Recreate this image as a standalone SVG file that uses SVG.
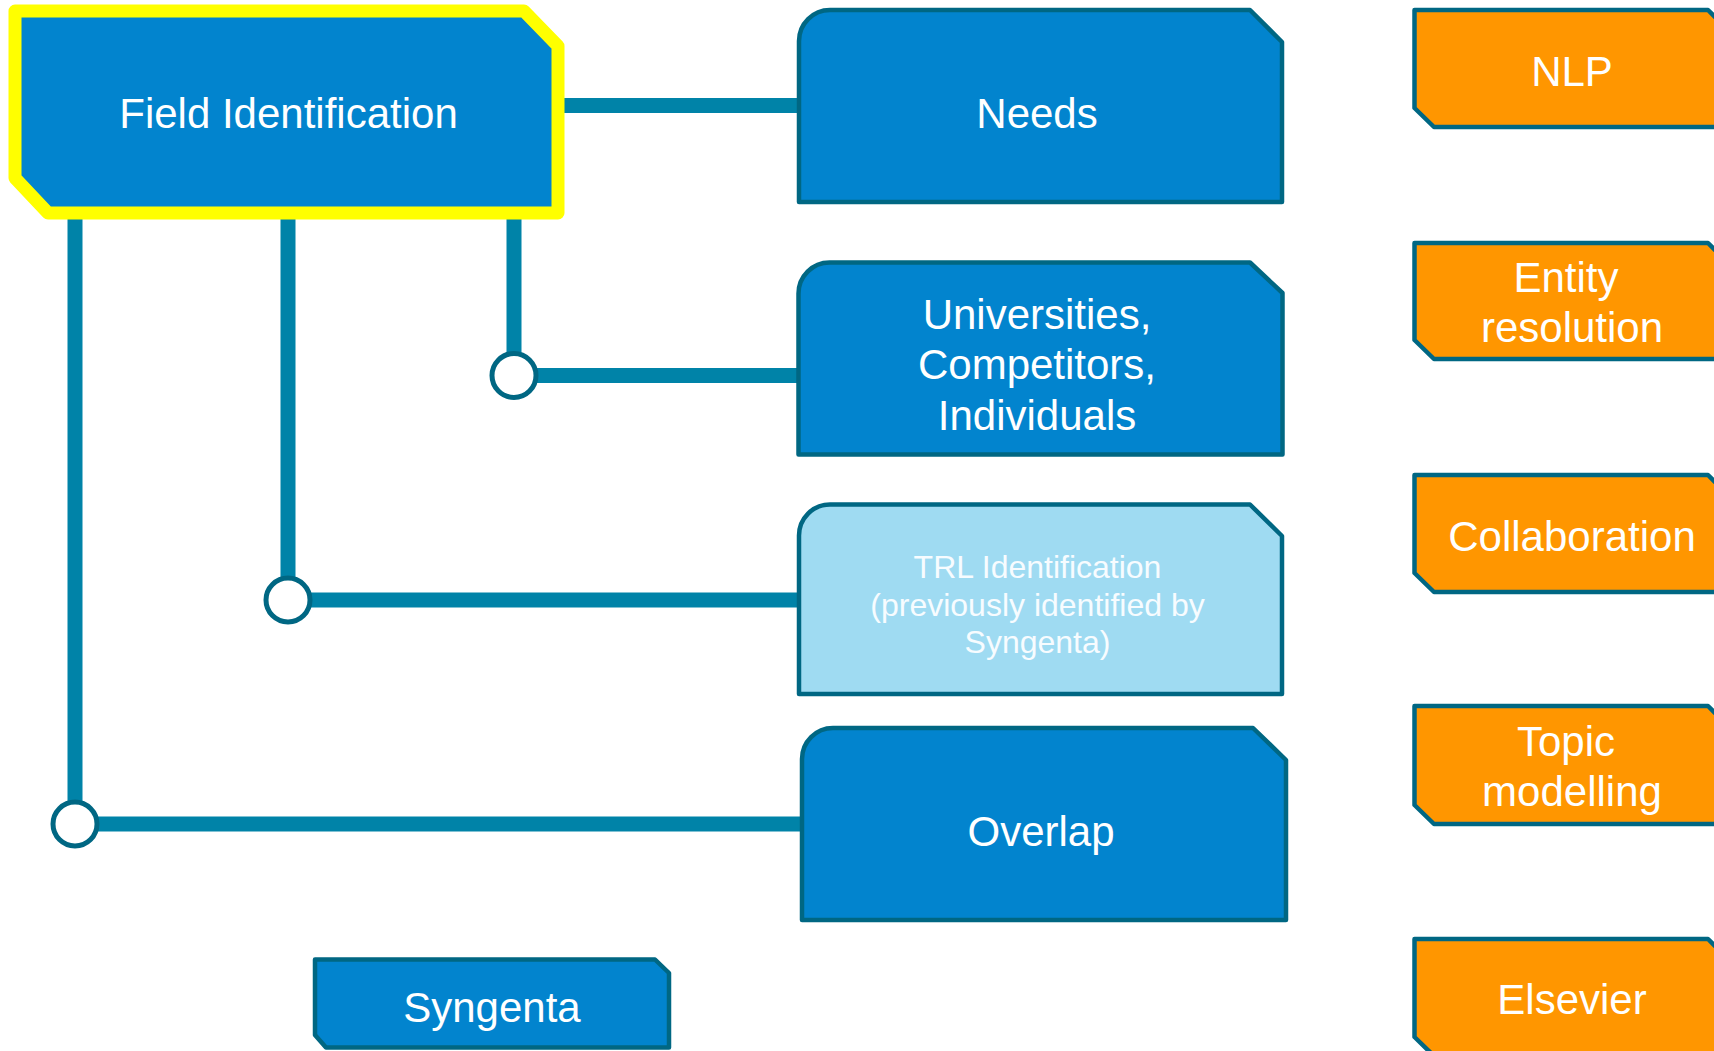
<svg xmlns="http://www.w3.org/2000/svg" width="1714" height="1051" viewBox="0 0 1714 1051">
<style>
.blue{fill:#0284CE;stroke:#006783;stroke-width:4.5;stroke-linejoin:round}
.light{fill:#9FDBF2;stroke:#006783;stroke-width:4.5;stroke-linejoin:round}
.orange{fill:#FF9600;stroke:#006783;stroke-width:4.5;stroke-linejoin:round}
.sel{fill:#0284CE;stroke:#FFFF00;stroke-width:13;stroke-linejoin:round}
.lbl{font-family:"Liberation Sans",Arial,sans-serif;font-size:42px;fill:#FFFFFF;text-anchor:middle}
.small{font-size:32px;fill:#F7FCFF}
.wire{stroke:#0083A8;stroke-width:15;fill:none}
.dot{fill:#FFFFFF;stroke:#006783;stroke-width:5}
</style>
<rect width="1714" height="1051" fill="#FFFFFF"/>
<g id="connectors">
<line class="wire" x1="560" y1="105.5" x2="800" y2="105.5"/>
<line class="wire" x1="514" y1="215" x2="514" y2="375.5"/>
<line class="wire" x1="514" y1="375.5" x2="799" y2="375.5"/>
<line class="wire" x1="288" y1="215" x2="288" y2="600"/>
<line class="wire" x1="288" y1="600" x2="800" y2="600"/>
<line class="wire" x1="75" y1="215" x2="75" y2="824"/>
<line class="wire" x1="75" y1="824" x2="803" y2="824"/>
<circle class="dot" cx="514" cy="375.5" r="22"/>
<circle class="dot" cx="288" cy="600" r="22"/>
<circle class="dot" cx="75" cy="824" r="22"/>
</g>
<g id="field-identification">
<path class="sel" d="M15,11 H524 L558,46 V213 H48 L15,178 Z"/>
<text class="lbl" x="288.5" y="128">Field Identification</text>
</g>
<g id="needs">
<path class="blue" d="M799,202 V41 A31,31 0 0 1 830,10 H1250 L1282,42 V202 Z"/>
<text class="lbl" x="1037" y="128">Needs</text>
</g>
<g id="universities">
<path class="blue" d="M798.5,454.5 V293.5 A31,31 0 0 1 829.5,262.5 H1250 L1282.5,293 V454.5 Z"/>
<text class="lbl" x="1037" y="329">Universities,</text>
<text class="lbl" x="1037" y="379">Competitors,</text>
<text class="lbl" x="1037" y="430">Individuals</text>
</g>
<g id="trl-identification">
<path class="light" d="M799,694 V535.5 A31,31 0 0 1 830,504.5 H1250 L1282,536 V694 Z"/>
<text class="lbl small" x="1037.5" y="578">TRL Identification</text>
<text class="lbl small" x="1037.5" y="615.5">(previously identified by</text>
<text class="lbl small" x="1037.5" y="653">Syngenta)</text>
</g>
<g id="overlap">
<path class="blue" d="M802,920 V759 A31,31 0 0 1 833,728 H1253 L1286,760 V920 Z"/>
<text class="lbl" x="1041" y="846">Overlap</text>
</g>
<g id="syngenta">
<path class="blue" d="M315,959.5 H655 L669,973 V1047.5 H326 L315,1035 Z"/>
<text class="lbl" x="492" y="1021.5">Syngenta</text>
</g>
<g id="nlp">
<path class="orange" d="M1414.5,10 H1708 L1730,32 V127 H1434 L1414.5,108 Z"/>
<text class="lbl" x="1572" y="86">NLP</text>
</g>
<g id="entity-resolution">
<path class="orange" d="M1414.5,243 H1708 L1730,265 V359 H1434 L1414.5,340 Z"/>
<text class="lbl" x="1566" y="292">Entity</text>
<text class="lbl" x="1572" y="342">resolution</text>
</g>
<g id="collaboration">
<path class="orange" d="M1414.5,475 H1708 L1730,497 V592 H1434 L1414.5,573 Z"/>
<text class="lbl" x="1572" y="550.5">Collaboration</text>
</g>
<g id="topic-modelling">
<path class="orange" d="M1414.5,706 H1708 L1730,728 V824 H1434 L1414.5,805 Z"/>
<text class="lbl" x="1566" y="756">Topic</text>
<text class="lbl" x="1572" y="806">modelling</text>
</g>
<g id="elsevier">
<path class="orange" d="M1414.5,939 H1708 L1730,961 V1056 H1434 L1414.5,1037 Z"/>
<text class="lbl" x="1572" y="1014">Elsevier</text>
</g>
</svg>
